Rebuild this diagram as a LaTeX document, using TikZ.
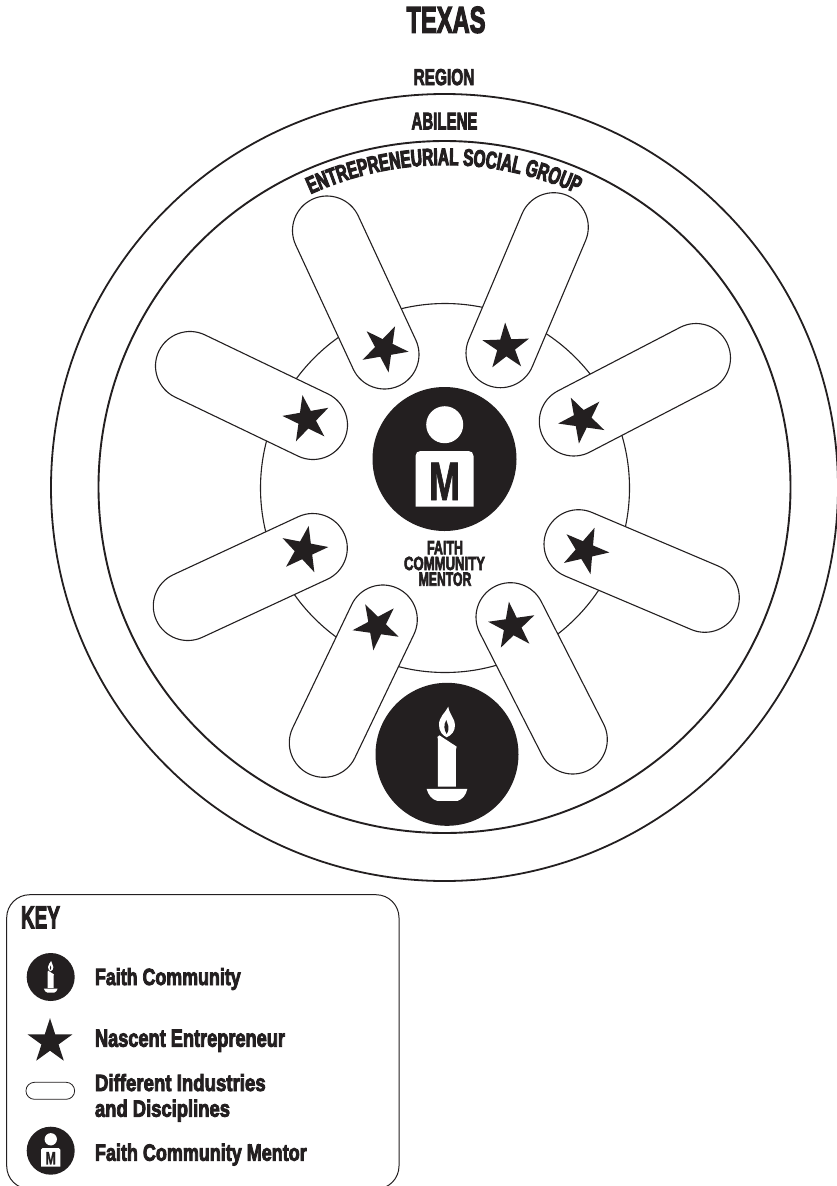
\documentclass[tikz,border=0pt]{standalone}
\usepackage{fontspec}
\usepackage{graphicx}
\usetikzlibrary{shapes.geometric,shapes.misc,decorations.text}
\newfontfamily\imp[UprightFont=* Bold,FakeBold=4]{Liberation Sans}
\newfontfamily\impbig[UprightFont=* Bold,FakeBold=1.5]{Liberation Sans}
\newfontfamily\arcfont[UprightFont=* Bold,FakeBold=4,FakeStretch=0.64]{Liberation Sans}
\definecolor{ink}{HTML}{231F20}
\newcommand{\fitted}[3]{\resizebox{#1pt}{#2pt}{\imp #3}}
\newcommand{\fittedbig}[3]{\resizebox{#1pt}{#2pt}{\impbig #3}}
\tikzset{
  ring/.style={circle,draw=ink,fill=white,inner sep=0pt,outer sep=0pt,minimum size=#1},
  disc/.style={circle,fill=ink,inner sep=0pt,outer sep=0pt,minimum size=#1},
  pill/.style={rounded rectangle,draw=ink,fill=white,line width=1.1pt,inner sep=0pt,outer sep=0pt},
  nstar/.style={star,star points=5,star point ratio=2.618,fill=ink,inner sep=0pt,outer sep=0pt,minimum size=#1},
  lab/.style={inner sep=0pt,outer sep=0pt,text=ink},
}
\newcommand{\candleicon}[3]{%
  \begin{scope}[shift={(#1,#2)},scale=#3]
    \begin{scope}[shift={(-87,-94.33)},scale=0.3333]
      \fill[white] (234,380) -- (234,238) .. controls (231,234) and (231,228) .. (238,226)
        -- (290,260) -- (288,268) -- (288,380) -- cycle;
      \fill[white] (265,140) .. controls (255,160) and (237,170) .. (237,195)
        .. controls (237,215) and (248,226) .. (260,232)
        .. controls (275,225) and (285,215) .. (285,195)
        .. controls (285,175) and (268,165) .. (265,140) -- cycle;
      \fill[ink] (260,222) .. controls (252,210) and (250,195) .. (259,180)
        .. controls (262,195) and (272,202) .. (260,222) -- cycle;
      \fill[white] (200,387) -- (322,387) .. controls (318,405) and (308,418) .. (292,423)
        -- (232,423) .. controls (215,418) and (205,405) .. (200,387) -- cycle;
    \end{scope}
  \end{scope}}
\newcommand{\mentoricon}[3]{%
  \begin{scope}[shift={(#1,#2)},scale=#3]
    \fill[white] (0.2,-34.3) circle (18.5);
    \fill[white] (-29,47.7) -- (-29,-3) .. controls (-29,-6) and (-27,-8) .. (-24,-8)
      -- (24,-8) .. controls (27,-8) and (29,-6) .. (29,-3) -- (29,47.7) -- cycle;
  \end{scope}}
\begin{document}
\begin{tikzpicture}[x=1pt,y=-1pt]
\useasboundingbox (0,0) rectangle (837,1186);
\fill[white] (0,0) rectangle (837,1186);
\node[lab,anchor=base] (title) at (446,32.7) {\fitted{79}{26}{TEXAS}};
\node[lab,anchor=base] (region) at (444,85) {\fitted{60.7}{16}{REGION}};
\node[ring=787pt,line width=1.8pt] (outer) at (444.5,487.5) {};
\node[lab,anchor=base] (abilene) at (444.5,129.3) {\fitted{66}{16.5}{ABILENE}};
\node[ring=692pt,line width=1.9pt] (city) at (444.5,487) {};
\node[ring=369pt,line width=1.1pt] (inner) at (445,488) {};
\path[postaction={decorate},decoration={text along path,text align=center,
  text={|\arcfont\fontsize{24}{24}\selectfont\color{ink}|ENTREPRENEURIAL SOCIAL GROUP}}]
  plot[domain=114.6:65.6,samples=60] ({444.5+322*cos(\x)},{487-322*sin(\x)});
\foreach \n/\xa/\ya/\xb/\yb/\sx/\sy/\sr in {
  a/327/230.5/384.5/354.5/384.3/348.3/-26,
  b/190/366/313/425/306.7/419.3/10,
  c/553.8/227.2/500.5/353.2/506/347/2,
  d/696/358/573.8/421.5/582.3/419.3/28,
  e/187.8/606/312.8/548/304/550/-11,
  f/382.8/619.5/323.8/742.8/376.7/626/28,
  g/578.5/544.2/704.8/597.8/585/550.3/-23,
  h/510.5/617.2/572.8/739.5/512.3/626/8}{
  \pgfmathsetmacro{\cx}{(\xa+\xb)/2}
  \pgfmathsetmacro{\cy}{(\ya+\yb)/2}
  \pgfmathsetmacro{\ang}{atan2(\ya-\yb,\xb-\xa)}
  \pgfmathsetmacro{\len}{veclen(\xb-\xa,\yb-\ya)+69}
  \node[pill,minimum height=69pt,minimum width=\len pt,rotate=\ang] (pill\n) at (\cx,\cy) {};
  \node[nstar=49pt,rotate=\sr] (star\n) at (\sx,\sy) {};
}
\node[disc=144pt] (mentor) at (444.5,459) {};
\mentoricon{444.5}{459}{1}
\node[lab,anchor=base] (mentorM) at (444.5,500) {\fittedbig{31}{37.3}{M}};
\node[lab,anchor=base] (fcm1) at (445,554.3) {\fitted{36}{13.3}{FAITH}};
\node[lab,anchor=base] (fcm2) at (444.5,570) {\fitted{81}{13.3}{COMMUNITY}};
\node[lab,anchor=base] (fcm3) at (445,585.7) {\fitted{52.7}{13.3}{MENTOR}};
\node[disc=143pt] (faith) at (447,754.3) {};
\candleicon{447}{754.3}{1}
% key
\draw[ink,line width=1pt,rounded corners=23pt] (6.7,1189) -- (6.7,894.7) -- (399,894.7) -- (399,1189) -- cycle;
\node[lab,anchor=base west] (keytitle) at (21,928.3) {\fitted{39}{21.7}{KEY}};
\node[disc=48pt] (keyfaith) at (50.7,977) {};
\candleicon{50.7}{977}{0.336}
\node[lab,anchor=base west] (k1) at (95,985) {\fitted{145.7}{17}{Faith Community}};
\node[nstar=47pt] (keystar) at (50,1041.7) {};
\node[lab,anchor=base west] (k2) at (95,1046.7) {\fitted{190}{17}{Nascent Entrepreneur}};
\node[pill,line width=0.8pt,minimum width=48.7pt,minimum height=17pt] (keypill) at (50.3,1090.8) {};
\node[lab,anchor=base west] (k3) at (95,1091) {\fitted{170.7}{17}{Different Industries}};
\node[lab,anchor=base west] (k3b) at (95,1116.7) {\fitted{135}{17}{and Disciplines}};
\node[disc=48pt] (keymentor) at (50.7,1150.7) {};
\mentoricon{50.7}{1150.7}{0.3333}
\node[lab,anchor=base] (keyM) at (50.7,1164.4) {\fittedbig{10.3}{12.4}{M}};
\node[lab,anchor=base west] (k4) at (95,1160.7) {\fitted{211.7}{17}{Faith Community Mentor}};
\end{tikzpicture}
\end{document}
